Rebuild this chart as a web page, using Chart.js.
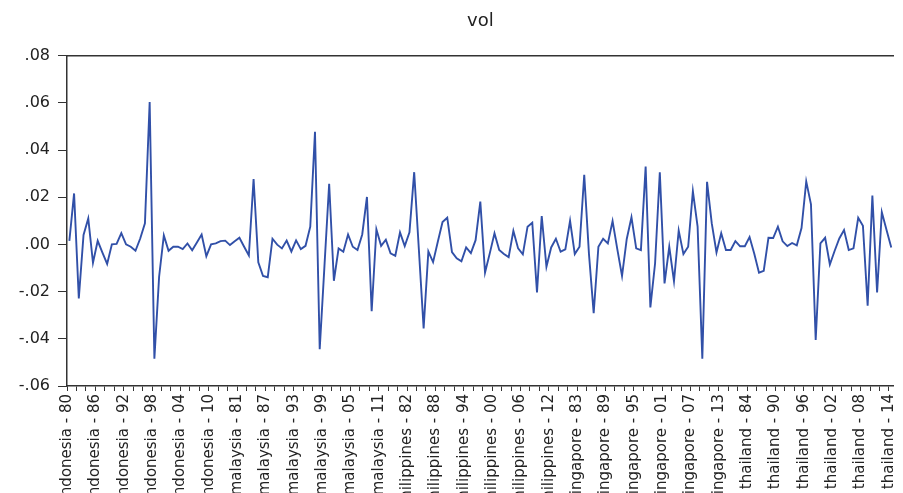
<!DOCTYPE html>
<html>
<head>
<meta charset="utf-8">
<script src="https://cdn.jsdelivr.net/npm/chart.js@4.4.0/dist/chart.umd.min.js"></script>
<style>
  body { margin: 0; overflow: hidden; background: #fff; }
  #wrap { width: 910px; height: 506px; }
</style>
</head>
<body>
<div id="wrap"><canvas id="vol"></canvas></div>
<script>
const countries = ["indonesia", "malaysia", "philippines", "singapore", "thailand"];
const years = ["80", "81", "82", "83", "84", "85", "86", "87", "88", "89",
  "90", "91", "92", "93", "94", "95", "96", "97", "98", "99",
  "00", "01", "02", "03", "04", "05", "06", "07", "08", "09",
  "10", "11", "12", "13", "14"];

const volIndonesia = [0.0015, 0.0216, -0.0229, 0.0040, 0.0110, -0.0078, 0.0015, -0.0035, -0.0083, 0.0000,
  0.0002, 0.0048, 0.0000, -0.0010, -0.0027, 0.0025, 0.0089, 0.0603, -0.0484, -0.0137,
  0.0038, -0.0027, -0.0010, -0.0010, -0.0020, 0.0004, -0.0025, 0.0008, 0.0042, -0.0050,
  0.0000, 0.0004, 0.0014, 0.0016, -0.0003];
const volMalaysia = [0.0013, 0.0028, -0.0010, -0.0047, 0.0277, -0.0076, -0.0134, -0.0139, 0.0024, -0.0001,
  -0.0017, 0.0016, -0.0030, 0.0017, -0.0020, -0.0006, 0.0075, 0.0477, -0.0444, -0.0093,
  0.0257, -0.0154, -0.0017, -0.0031, 0.0042, -0.0010, -0.0024, 0.0042, 0.0201, -0.0283,
  0.0064, -0.0006, 0.0020, -0.0038, -0.0048];
const volPhilippines = [0.0051, -0.0007, 0.0051, 0.0306, -0.0025, -0.0356, -0.0030, -0.0075, 0.0011, 0.0095,
  0.0113, -0.0033, -0.0059, -0.0072, -0.0013, -0.0037, 0.0018, 0.0181, -0.0119, -0.0038,
  0.0047, -0.0024, -0.0041, -0.0054, 0.0057, -0.0017, -0.0042, 0.0075, 0.0092, -0.0204,
  0.0120, -0.0095, -0.0013, 0.0024, -0.0031];
const volSingapore = [-0.0021, 0.0100, -0.0041, -0.0010, 0.0295, -0.0040, -0.0291, -0.0010, 0.0024, 0.0004,
  0.0099, -0.0020, -0.0134, 0.0023, 0.0115, -0.0017, -0.0024, 0.0330, -0.0267, -0.0080,
  0.0306, -0.0165, -0.0010, -0.0156, 0.0059, -0.0041, -0.0010, 0.0225, 0.0075, -0.0484,
  0.0265, 0.0089, -0.0034, 0.0047, -0.0024];
const volThailand = [-0.0024, 0.0014, -0.0008, -0.0008, 0.0031, -0.0040, -0.0120, -0.0112, 0.0028, 0.0027,
  0.0075, 0.0013, -0.0007, 0.0006, -0.0004, 0.0069, 0.0267, 0.0170, -0.0405, 0.0004,
  0.0028, -0.0085, -0.0028, 0.0025, 0.0061, -0.0024, -0.0017, 0.0113, 0.0079, -0.0260,
  0.0207, -0.0204, 0.0136, 0.0061, -0.0013];

const yMin = -0.06;
const yMax = 0.08;
const yStep = 0.02;

// one label per observation, e.g. "malaysia - 87"
const obsLabels = countries.flatMap(c => years.map(y => c + " - " + y));
const vol = [...volIndonesia, ...volMalaysia, ...volPhilippines, ...volSingapore, ...volThailand];
const points = vol.map((v, i) => ({ x: i, y: v }));

// tick marks sit on interval edges, every 2nd observation; a label on every 3rd mark
const tickEdges = [];
for (let e = -0.5; e < vol.length - 0.5; e += 2) tickEdges.push(e);

const axisColor = "#333";
const textColor = "#222";

new Chart(document.getElementById("vol"), {
  type: "line",
  data: {
    datasets: [{
      label: "vol",
      data: points,
      borderColor: "#3150a8",
      borderWidth: 1.9,
      pointRadius: 0,
      tension: 0,
      fill: false
    }]
  },
  options: {
    responsive: true,
    maintainAspectRatio: false,
    animation: false,
    layout: { padding: { top: 0, right: 6, bottom: 0, left: 0 } },
    plugins: {
      legend: { display: false },
      tooltip: { enabled: false },
      title: {
        display: true,
        text: "vol",
        fullSize: false,
        color: textColor,
        font: { family: "DejaVu Sans", size: 18, weight: "normal" },
        padding: { top: 11, bottom: 23 }
      }
    },
    scales: {
      x: {
        type: "linear",
        position: "bottom",
        min: -0.5,
        max: vol.length - 0.5,
        afterBuildTicks: s => { s.ticks = tickEdges.map(v => ({ value: v })); },
        afterFit: s => { s.height = 120; },
        grid: { display: true, drawOnChartArea: false, drawTicks: true, tickLength: 5, color: axisColor, lineWidth: 1 },
        border: { display: true, color: axisColor, width: 1.5 },
        ticks: {
          autoSkip: false,
          minRotation: 90,
          maxRotation: 90,
          padding: 3,
          color: textColor,
          font: { family: "DejaVu Sans", size: 15 },
          callback: (value, index) => index % 3 === 0 ? obsLabels[Math.round(value + 0.5)] : ""
        }
      },
      xTop: {
        type: "linear",
        position: "top",
        grid: { display: false, drawTicks: false },
        border: { display: true, color: axisColor, width: 1.5 },
        ticks: { display: false },
        afterFit: s => { s.height = 0; }
      },
      y: {
        type: "linear",
        min: yMin,
        max: yMax,
        afterFit: s => { s.width = 67; },
        grid: { display: true, drawOnChartArea: false, drawTicks: true, tickLength: 9, color: axisColor, lineWidth: 1 },
        border: { display: true, color: axisColor, width: 1.5 },
        ticks: {
          stepSize: yStep,
          padding: 8,
          color: textColor,
          font: { family: "DejaVu Sans", size: 16 },
          callback: v => {
            const s = Math.abs(v).toFixed(2).replace(/^0/, "");
            return (v < -1e-9 ? "-" : "") + s;
          }
        }
      }
    }
  }
});
</script>
</body>
</html>
